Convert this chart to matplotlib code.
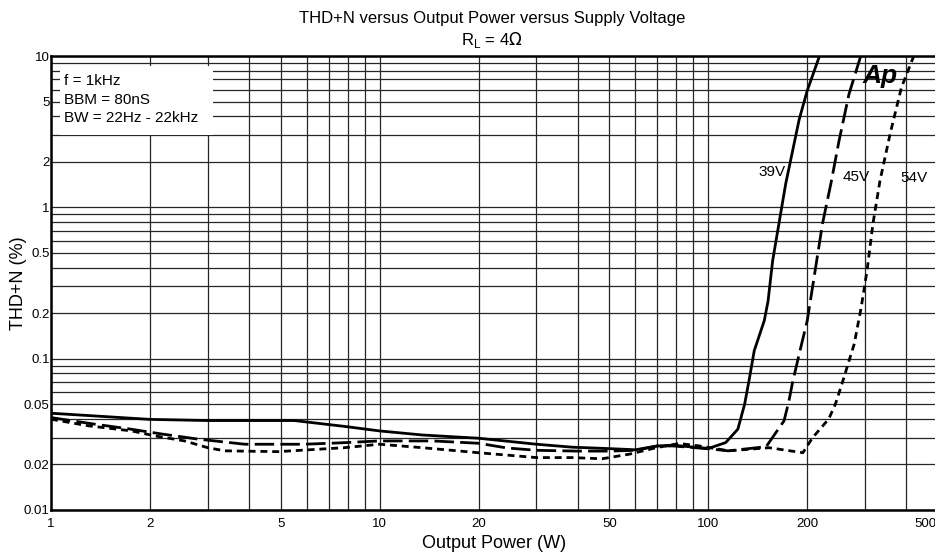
# THD+N vs output power for three supply voltages (RL = 4 ohm)
import matplotlib
matplotlib.use("Agg")
import matplotlib.pyplot as plt
import matplotlib.transforms as mtrans
from matplotlib.patches import Rectangle

plt.rcParams['font.family'] = ['Liberation Sans', 'DejaVu Sans']
plt.rcParams['lines.scale_dashes'] = False

# 39V, solid
p39 = [1, 2, 3, 5.5, 7.8, 10, 13.5, 20, 30, 38.6, 48.8, 60, 70, 78, 100,
       113, 123, 129, 133, 138, 148, 152, 157, 172, 189, 200, 218]
thd39 = [0.0436, 0.0397, 0.039, 0.039, 0.0357, 0.0333, 0.0313, 0.0298, 0.0272,
         0.026, 0.0255, 0.025, 0.0265, 0.0268, 0.0255,
         0.0279, 0.0342, 0.05, 0.0715, 0.113, 0.178, 0.24, 0.445, 1.43, 3.8, 5.9, 10]

# 45V, long dash
p45 = [1, 1.36, 1.72, 2.17, 2.8, 3.89, 5.9, 7.64, 10, 14.5, 20, 24.4, 30, 40,
       50, 60, 70, 78, 100, 115, 150, 170, 176, 180, 189, 200, 207.5, 222.6,
       236, 250, 268, 291]
thd45 = [0.0408, 0.0369, 0.0344, 0.0318, 0.0294, 0.0272, 0.0272, 0.0278, 0.0286,
         0.0286, 0.0276, 0.0257, 0.0248, 0.0245, 0.0245, 0.0248, 0.0265, 0.0265,
         0.0254, 0.0246, 0.0262, 0.0388, 0.0527, 0.0678, 0.107, 0.178, 0.295,
         0.78, 1.43, 2.76, 5.6, 10]

# 54V, short dash
p54 = [1, 1.3, 1.76, 2.07, 2.55, 3.0, 3.38, 4.9, 7.8, 10, 13.5, 20, 30, 38.6,
       47.5, 57.6, 69.4, 81.5, 94, 115.5, 153, 194, 207.5, 232.6, 243.6, 255,
       278, 292, 304, 317, 333, 358, 387, 422]
thd54 = [0.0398, 0.036, 0.0333, 0.0309, 0.0286, 0.0258, 0.0246, 0.0243, 0.0258,
         0.0272, 0.0258, 0.0239, 0.0222, 0.0222, 0.0218, 0.0234, 0.0258, 0.0275,
         0.0265, 0.0246, 0.0258, 0.0239, 0.030, 0.04, 0.05, 0.068, 0.125, 0.219,
         0.38, 0.78, 1.5, 3.1, 6.2, 10]

xticks = [1, 2, 5, 10, 20, 50, 100, 200, 500]
xticklabels = ['1', '2', '5', '10', '20', '50', '100', '200', '500']
yticks = [0.01, 0.02, 0.05, 0.1, 0.2, 0.5, 1, 2, 5, 10]
yticklabels = ['0.01', '0.02', '0.05', '0.1', '0.2', '0.5', '1', '2', '5', '10']
conditions = ['f = 1kHz', 'BBM = 80nS', 'BW = 22Hz - 22kHz']

fig = plt.figure(figsize=(9.35, 5.54), dpi=100)
ax = fig.add_axes([51/935, 44/554, 887/935, 454/554])
ax.set_xscale('log')
ax.set_yscale('log')
ax.set_xlim(1, 500)
ax.set_ylim(0.01, 10)

# grid at every 1..9 per decade
gx = [m * 10**d for d in range(0, 3) for m in range(1, 10)] + [500]
gy = [m * 10**d for d in range(-2, 1) for m in range(1, 10)] + [10]
for v in gx:
    ax.axvline(v, color='0.15', lw=0.9, zorder=1)
for v in gy:
    ax.axhline(v, color='0.15', lw=0.9, zorder=1)

ax.set_xticks(xticks)
ax.set_xticklabels(xticklabels)
ax.set_xticks([], minor=True)
ax.set_yticks(yticks)
ax.set_yticklabels(yticklabels)
ax.set_yticks([], minor=True)
ax.tick_params(length=0, labelsize=9.5)
ax.tick_params(axis='x', pad=6)
ax.tick_params(axis='y', pad=1)

# the last x label sits a bit inside the picture edge
last = ax.get_xticklabels()[-1]
last.set_transform(last.get_transform() +
                   mtrans.ScaledTranslation(-0.13, 0, fig.dpi_scale_trans))

for s in ax.spines.values():
    s.set_linewidth(1.8)

l39, = ax.plot(p39, thd39, color='black', lw=2, zorder=3)
l45, = ax.plot(p45, thd45, color='black', lw=2, zorder=3)
l45.set_dashes([14, 4.5])
l54, = ax.plot(p54, thd54, color='black', lw=2, zorder=3)
l54.set_dashes([5, 3.5])

# conditions box
ax.add_patch(Rectangle((0.010, 0.826), 0.173, 0.152, transform=ax.transAxes,
                       facecolor='white', edgecolor='none', zorder=2))
for i, t in enumerate(conditions):
    ax.text(0.0147, 0.945 - i * 0.041, t, transform=ax.transAxes, fontsize=11,
            va='center', ha='left', zorder=4)

ax.text(156, 1.71, '39V', fontsize=11, ha='center', va='center', zorder=4)
ax.text(282, 1.59, '45V', fontsize=11, ha='center', va='center', zorder=4)
ax.text(423, 1.57, '54V', fontsize=11, ha='center', va='center', zorder=4)
ax.text(333, 7.4, 'Ap', fontsize=19, fontweight='heavy', fontstyle='italic',
        ha='center', va='center', zorder=4)

fig.text(0.526, 0.967, 'THD+N versus Output Power versus Supply Voltage',
         ha='center', va='center', fontsize=12)
fig.text(0.526, 0.928, r'R$_\mathregular{L}$ = 4$\Omega$', ha='center', va='center',
         fontsize=12)
ax.set_xlabel('Output Power (W)', fontsize=13, labelpad=3)
ax.set_ylabel('THD+N (%)', fontsize=13)
ax.yaxis.set_label_coords(-0.027, 0.5)

fig.savefig('out.png', dpi=100)
